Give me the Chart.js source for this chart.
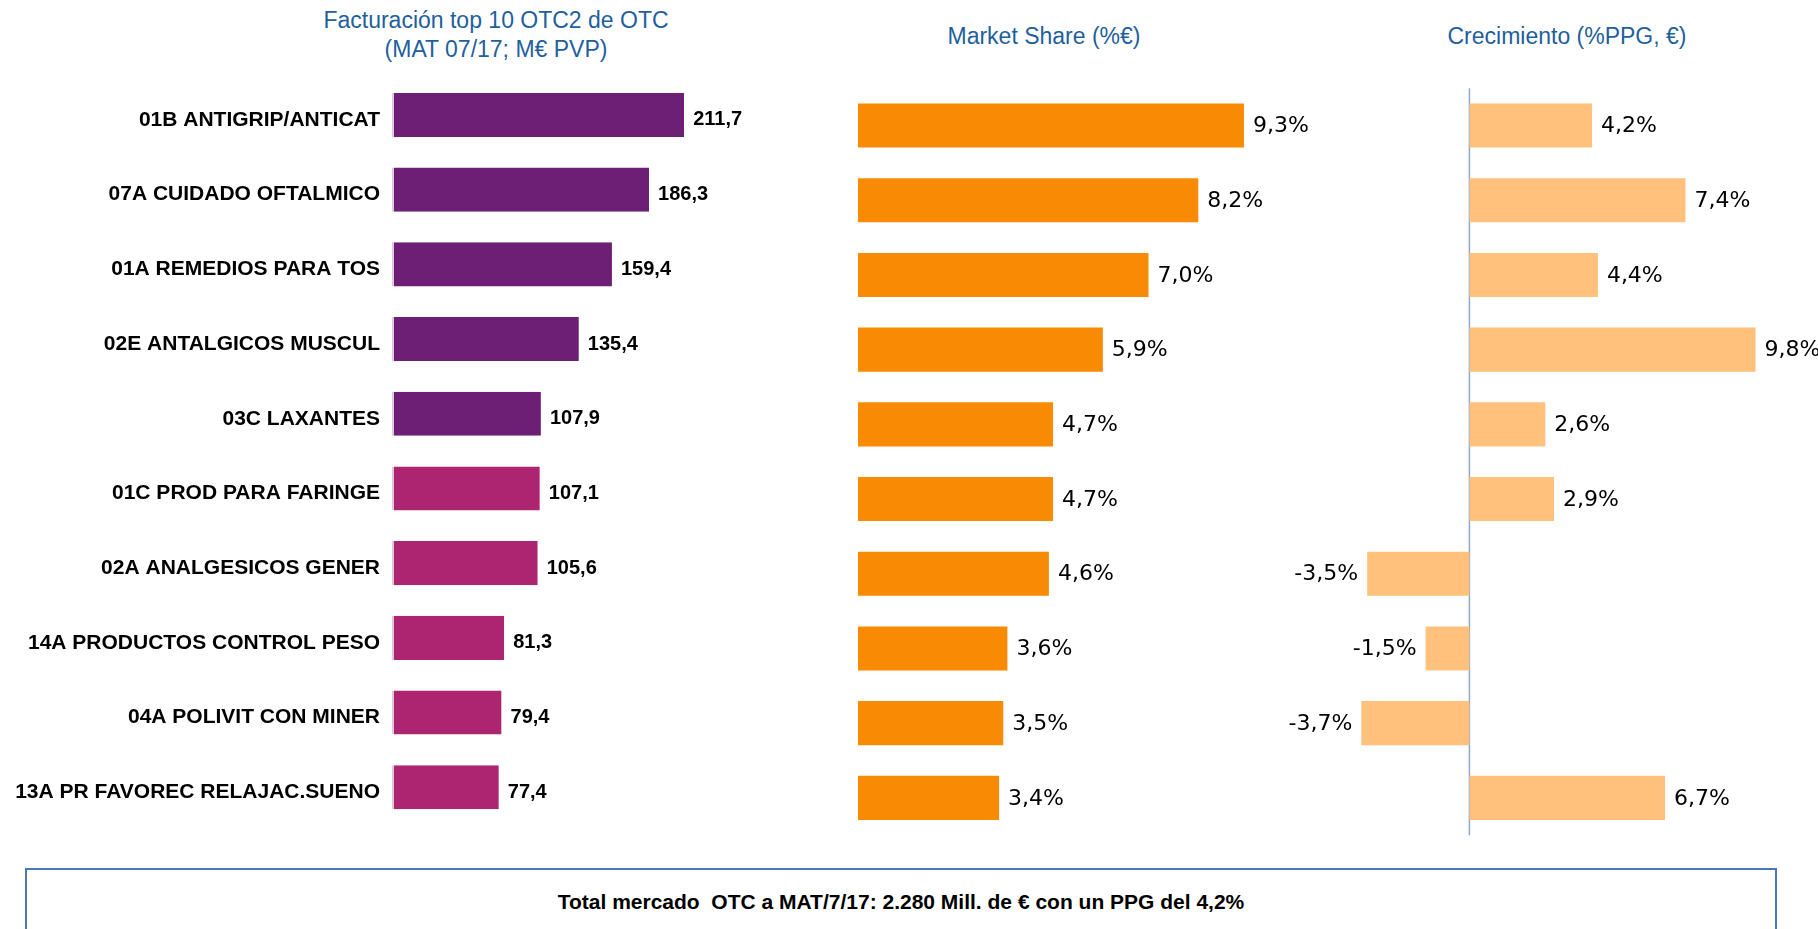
<!DOCTYPE html>
<html lang="es">
<head>
<meta charset="UTF-8">
<title>Facturación top 10 OTC2</title>
<script src="https://cdn.jsdelivr.net/npm/chart.js"></script>
<style>
    body { margin: 0; background: #ffffff; width: 1818px; height: 929px; overflow: hidden; position: relative; font-family: "Liberation Sans", Arial, sans-serif; }
    canvas { position: absolute; top: 0; }
    .titulo { position: absolute; color: #1f5f9e; font-size: 23px; text-align: center; line-height: 29px; }
    .total-box { position: absolute; left: 25px; top: 868px; width: 1752px; height: 80px; border: 2px solid #4a78b0; box-sizing: border-box; }
    .total-box span { position: absolute; left: 0; right: 0; top: 20px; text-align: center; font-weight: bold; font-size: 21px; color: #000; white-space: pre; }
</style>
</head>
<body>
<div class="titulo" style="left:296px; top:6px; width:400px;">Facturación top 10 OTC2 de OTC<br>(MAT 07/17; M€ PVP)</div>
<div class="titulo" style="left:844px; top:22px; width:400px;">Market Share (%€)</div>
<div class="titulo" style="left:1367px; top:22px; width:400px;">Crecimiento (%PPG, €)</div>

<canvas id="c1" width="806" height="860" style="left:0px"></canvas>
<canvas id="c2" width="500" height="860" style="left:858px"></canvas>
<canvas id="c3" width="553" height="860" style="left:1265px"></canvas>

<div class="total-box"><span>Total mercado  OTC a MAT/7/17: 2.280 Mill. de € con un PPG del 4,2%</span></div>

<script>
    const categorias = [
        '01B ANTIGRIP/ANTICAT',
        '07A CUIDADO OFTALMICO',
        '01A REMEDIOS PARA TOS',
        '02E ANTALGICOS MUSCUL',
        '03C LAXANTES',
        '01C PROD PARA FARINGE',
        '02A ANALGESICOS GENER',
        '14A PRODUCTOS CONTROL PESO',
        '04A POLIVIT CON MINER',
        '13A PR FAVOREC RELAJAC.SUENO'
    ];
    const facturacion = [211.7, 186.3, 159.4, 135.4, 107.9, 107.1, 105.6, 81.3, 79.4, 77.4];
    const marketShare = [9.3, 8.2, 7.0, 5.9, 4.7, 4.7, 4.6, 3.6, 3.5, 3.4];
    const crecimiento = [4.2, 7.4, 4.4, 9.8, 2.6, 2.9, -3.5, -1.5, -3.7, 6.7];

    // etiquetas de valor al final de cada barra
    const etiquetas = {
        id: 'etiquetas',
        afterDatasetsDraw(chart, args, opts) {
            const ctx = chart.ctx;
            const meta = chart.getDatasetMeta(0);
            const data = chart.data.datasets[0].data;
            ctx.save();
            ctx.font = opts.font;
            ctx.fillStyle = '#000';
            ctx.textBaseline = 'middle';
            meta.data.forEach((bar, i) => {
                const v = data[i];
                const txt = v.toFixed(1).replace('.', ',') + (opts.suffix || '');
                if (v >= 0) {
                    ctx.textAlign = 'left';
                    ctx.fillText(txt, bar.x + 9, bar.y + (opts.dy || 0));
                } else {
                    ctx.textAlign = 'right';
                    ctx.fillText(txt, bar.x - 9, bar.y + (opts.dy || 0));
                }
            });
            ctx.restore();
        }
    };

    // linea vertical en el cero
    const lineaCero = {
        id: 'lineaCero',
        beforeDatasetsDraw(chart) {
            const x = chart.scales.x.getPixelForValue(0);
            const ctx = chart.ctx;
            ctx.save();
            ctx.strokeStyle = '#8eaacb';
            ctx.lineWidth = 1.5;
            ctx.beginPath();
            ctx.moveTo(x, chart.chartArea.top);
            ctx.lineTo(x, chart.chartArea.bottom);
            ctx.stroke();
            ctx.restore();
        }
    };

    Chart.defaults.animation = false;
    Chart.defaults.responsive = false;
    Chart.defaults.plugins.legend.display = false;
    Chart.defaults.plugins.tooltip.enabled = false;

    // Facturación
    new Chart(document.getElementById('c1'), {
        type: 'bar',
        data: {
            labels: categorias,
            datasets: [{
                data: facturacion,
                backgroundColor: facturacion.map((v, i) => i < 5 ? '#6c1f74' : '#ad2470'),
                borderColor: '#d9cbdc',
                borderWidth: { left: 2, right: 0, top: 0, bottom: 0 },
                borderSkipped: false,
                categoryPercentage: 1,
                barPercentage: 0.59
            }]
        },
        options: {
            indexAxis: 'y',
            layout: { padding: { top: 77.6, bottom: 35.4, right: 0 } },
            scales: {
                x: { display: false, min: 0, max: 300 },
                y: {
                    afterFit: (s) => { s.width = 392; },
                    grid: { display: false, drawTicks: false },
                    border: { display: false },
                    ticks: {
                        padding: 12,
                        labelOffset: 5,
                        color: '#000',
                        font: { family: '"Liberation Sans", Arial, sans-serif', size: 21, weight: 'bold' }
                    }
                }
            },
            plugins: { etiquetas: { font: 'bold 20px "Liberation Sans", Arial, sans-serif', dy: 5 } }
        },
        plugins: [etiquetas]
    });

    // Market share
    new Chart(document.getElementById('c2'), {
        type: 'bar',
        data: {
            labels: categorias,
            datasets: [{
                data: marketShare,
                backgroundColor: '#f98a03',
                categoryPercentage: 1,
                barPercentage: 0.59
            }]
        },
        options: {
            indexAxis: 'y',
            layout: { padding: { top: 88.2, bottom: 24.8, right: 85, left: 0 } },
            scales: {
                x: { display: false, min: 0, max: 10 },
                y: { display: false }
            },
            plugins: { etiquetas: { font: '22px "DejaVu Sans", Verdana, sans-serif', suffix: '%', dy: 1 } }
        },
        plugins: [etiquetas]
    });

    // Crecimiento
    new Chart(document.getElementById('c3'), {
        type: 'bar',
        data: {
            labels: categorias,
            datasets: [{
                data: crecimiento,
                backgroundColor: '#ffc17b',
                categoryPercentage: 1,
                barPercentage: 0.59
            }]
        },
        options: {
            indexAxis: 'y',
            layout: { padding: { top: 88.2, bottom: 24.8, right: 27.4, left: 0 } },
            scales: {
                x: { display: false, min: -7, max: 11 },
                y: { display: false }
            },
            plugins: { etiquetas: { font: '22px "DejaVu Sans", Verdana, sans-serif', suffix: '%', dy: 1 } }
        },
        plugins: [lineaCero, etiquetas]
    });
</script>
</body>
</html>
